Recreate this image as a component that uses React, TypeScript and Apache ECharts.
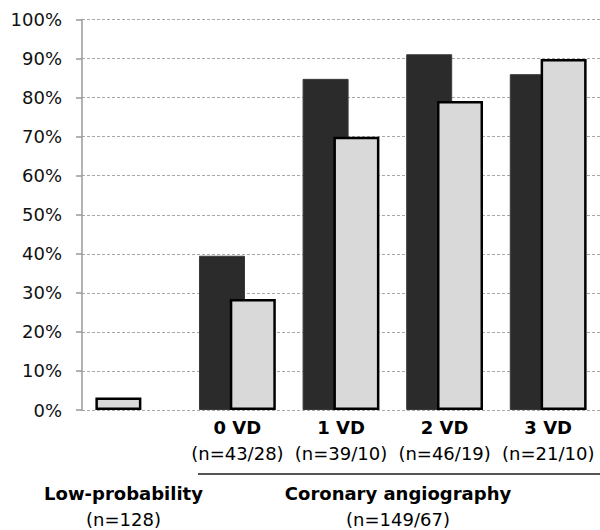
import React, { useEffect, useRef } from "react";
import * as echarts from "echarts";

const categories = ["Low-probability", "0 VD", "1 VD", "2 VD", "3 VD"];
const categoryCounts = ["(n=128)", "(n=43/28)", "(n=39/10)", "(n=46/19)", "(n=21/10)"];
const darkValues = [3.2, 39.5, 84.8, 91.1, 86.0];
const lightValues = [null, 28.4, 70.0, 79.1, 89.9];
const yTicks = [0, 10, 20, 30, 40, 50, 60, 70, 80, 90, 100];
const groupTitle = "Coronary angiography";
const groupCount = "(n=149/67)";

const FONT = "'DejaVu Sans', Verdana, sans-serif";
const DARK = "#2b2b2b";
const LIGHT = "#d9d9d9";
const FS = 18;

export default function App() {
  const ref = useRef<HTMLDivElement>(null);
  useEffect(() => {
    if (!ref.current) return;
    const chart = echarts.init(ref.current, null, { renderer: "svg" });
    const lightStyle = { color: LIGHT, borderColor: "#000", borderWidth: 2.5 };
    chart.setOption({
      animation: false,
      backgroundColor: "#fff",
      grid: { left: 82, right: 0, top: 19.5, bottom: 120, containLabel: false },
      xAxis: {
        type: "category",
        data: categories,
        axisLine: { show: false },
        axisTick: { show: false },
        axisLabel: {
          interval: 0,
          margin: 4,
          formatter: (v: string, i: number) =>
            i === 0 ? "" : `{b|${v}}\n{n|${categoryCounts[i]}}`,
          rich: {
            b: { fontFamily: FONT, fontSize: FS, fontWeight: "bold", color: "#000", lineHeight: 26 },
            n: { fontFamily: FONT, fontSize: FS, color: "#000", lineHeight: 26 },
          },
        },
      },
      yAxis: {
        type: "value",
        min: yTicks[0],
        max: yTicks[yTicks.length - 1],
        interval: 10,
        axisLine: { show: true, lineStyle: { color: "#9a9a9a", width: 1.5 } },
        axisTick: { show: true, length: 6, lineStyle: { color: "#9a9a9a", width: 1.5 } },
        splitLine: { show: true, lineStyle: { color: "#a8a8a8", type: [3, 2], width: 1.2 } },
        axisLabel: {
          margin: 20,
          formatter: "{value}%",
          fontFamily: FONT,
          fontSize: FS,
          color: "#111",
        },
      },
      series: [
        {
          type: "bar",
          barWidth: 46,
          barGap: "-33%",
          data: darkValues.map((v, i) =>
            i === 0 ? { value: v, itemStyle: lightStyle } : { value: v }
          ),
          itemStyle: { color: DARK, borderColor: "#3a3a3a", borderWidth: 1 },
        },
        {
          type: "bar",
          barWidth: 46,
          data: lightValues,
          itemStyle: lightStyle,
        },
      ],
      graphic: [
        {
          type: "line",
          shape: { x1: 198, y1: 474, x2: 600, y2: 474 },
          style: { stroke: "#555", lineWidth: 2 },
        },
        {
          type: "text",
          x: 123.5,
          y: 493,
          style: {
            text: categories[0],
            font: `bold ${FS}px ${FONT}`,
            fill: "#000",
            align: "center",
            verticalAlign: "middle",
          },
        },
        {
          type: "text",
          x: 123.5,
          y: 519,
          style: {
            text: categoryCounts[0],
            font: `${FS}px ${FONT}`,
            fill: "#000",
            align: "center",
            verticalAlign: "middle",
          },
        },
        {
          type: "text",
          x: 398,
          y: 493,
          style: {
            text: groupTitle,
            font: `bold ${FS}px ${FONT}`,
            fill: "#000",
            align: "center",
            verticalAlign: "middle",
          },
        },
        {
          type: "text",
          x: 398,
          y: 519,
          style: {
            text: groupCount,
            font: `${FS}px ${FONT}`,
            fill: "#000",
            align: "center",
            verticalAlign: "middle",
          },
        },
      ],
    });
    return () => chart.dispose();
  }, []);
  return (
    <div
      ref={ref}
      style={{ position: "fixed", left: 0, top: 0, width: 600, height: 530 }}
    />
  );
}
